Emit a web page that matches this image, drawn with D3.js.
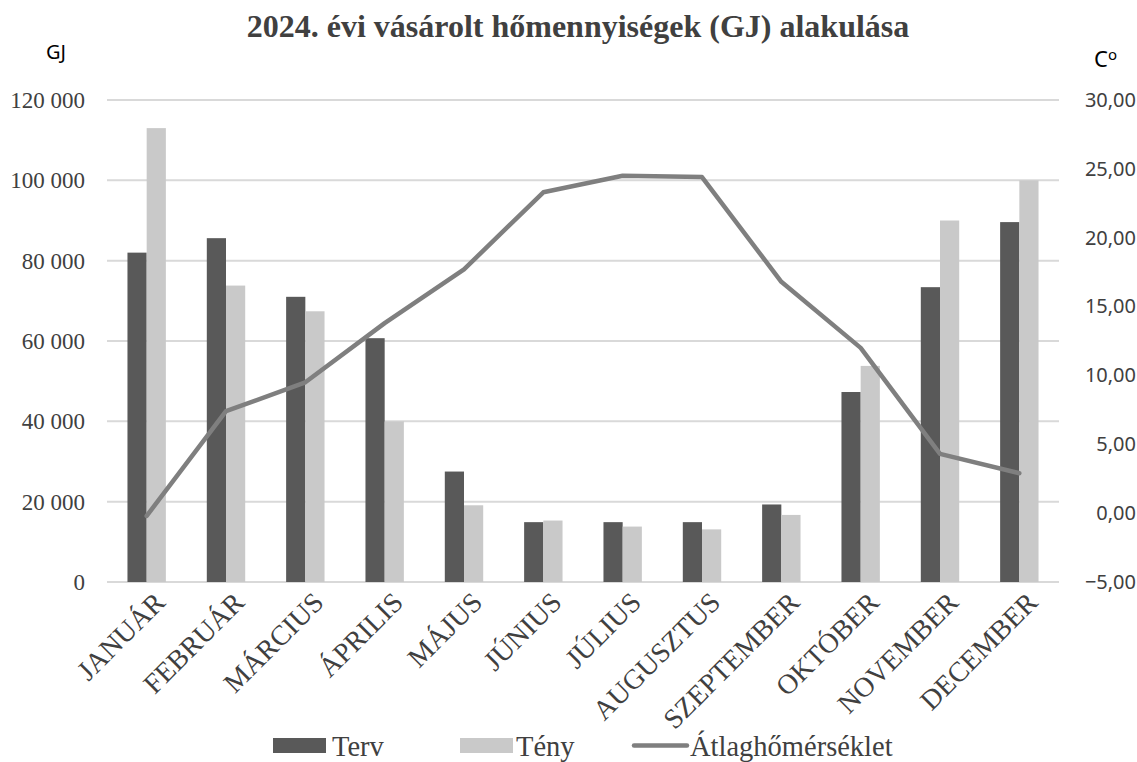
<!DOCTYPE html>
<html><head><meta charset="utf-8">
<script src="https://cdn.jsdelivr.net/npm/d3@7"></script>
<style>body{margin:0;background:#fff}svg{display:block}</style>
</head><body>
<svg id="c" width="1137" height="762"></svg>
<script>
const months = ["JANUÁR","FEBRUÁR","MÁRCIUS","ÁPRILIS","MÁJUS","JÚNIUS","JÚLIUS","AUGUSZTUS","SZEPTEMBER","OKTÓBER","NOVEMBER","DECEMBER"];
const terv = [82000,85600,71000,60700,27500,14900,14900,14900,19300,47300,73400,89600];
const teny = [113000,73800,67400,40000,19100,15300,13800,13100,16700,53800,90000,100000];
const temp = [-0.2,7.4,9.5,13.8,17.7,23.3,24.5,24.4,16.8,12.0,4.3,2.9];
const leftTicks = [0,20000,40000,60000,80000,100000,120000];
const rightTicks = [-5,0,5,10,15,20,25,30];
const seriesNames = ["Terv","Tény","Átlaghőmérséklet"];
const title = "2024. évi vásárolt hőmennyiségek (GJ) alakulása";

const svg = d3.select("#c");
const L=107, R=1059, T=100, B=582;
const serif = "'Liberation Serif','Times New Roman',serif";
const sans = "'Noto Sans','Open Sans',sans-serif";
const cTerv="#595959", cTeny="#c9c9c9", cLine="#7f7f7f", txt="#404040";

const x = d3.scaleBand().domain(months).range([L,R]).paddingInner(0.516).paddingOuter(0.258);
const x1 = d3.scaleBand().domain(["Terv","Tény"]).range([0,x.bandwidth()]);
const y = d3.scaleLinear().domain([0,120000]).range([B,T]);
const y2 = d3.scaleLinear().domain([-5,30]).range([B,T]);

// gridlines
svg.append("g").selectAll("line").data(leftTicks).join("line")
  .attr("x1",L).attr("x2",R).attr("y1",d=>y(d)).attr("y2",d=>y(d))
  .attr("stroke","#d9d9d9").attr("stroke-width",2);

// left axis
const fmt = d => d3.format(",")(d).replace(/,/g," ");
const ga = svg.append("g").attr("transform",`translate(${L},0)`)
  .call(d3.axisLeft(y).tickValues(leftTicks).tickFormat(fmt).tickSize(0).tickPadding(22));
ga.select(".domain").remove();
ga.selectAll("text").attr("font-family",serif).attr("font-size",23).attr("fill",txt);

// right axis
const gr = svg.append("g").attr("transform",`translate(${R},0)`)
  .call(d3.axisRight(y2).tickValues(rightTicks).tickFormat(d=>d3.format(".2f")(d).replace(".",",")).tickSize(0).tickPadding(77));
gr.select(".domain").remove();
gr.selectAll("text").attr("font-family",sans).attr("font-size",20).attr("fill",txt).attr("text-anchor","end");

// bars
const grp = svg.append("g").selectAll("g").data(months).join("g")
  .attr("transform",d=>`translate(${x(d)},0)`);
grp.append("rect").attr("x",x1("Terv")).attr("width",x1.bandwidth())
  .attr("y",(d,i)=>y(terv[i])).attr("height",(d,i)=>B-y(terv[i])).attr("fill",cTerv);
grp.append("rect").attr("x",x1("Tény")).attr("width",x1.bandwidth())
  .attr("y",(d,i)=>y(teny[i])).attr("height",(d,i)=>B-y(teny[i])).attr("fill",cTeny);

// line
const line = d3.line().x((d,i)=>x(months[i])+x.bandwidth()/2).y(d=>y2(d));
svg.append("path").datum(temp).attr("d",line).attr("fill","none")
  .attr("stroke",cLine).attr("stroke-width",4.5).attr("stroke-linejoin","round").attr("stroke-linecap","round");

// x labels
const gx = svg.append("g").attr("transform",`translate(0,${B})`)
  .call(d3.axisBottom(x).tickSize(0).tickPadding(0));
gx.select(".domain").remove();
gx.selectAll("text").attr("font-family",serif).attr("font-size",28).attr("fill",txt)
  .attr("text-anchor","end").attr("dy",0).attr("y",0)
  .attr("transform","translate(20,22) rotate(-45)");

// title
svg.append("text").attr("x",578).attr("y",37).attr("text-anchor","middle")
  .attr("font-family",serif).attr("font-weight","bold").attr("font-size",32).attr("fill",txt).text(title);
// unit labels
svg.append("text").attr("x",56).attr("y",59).attr("text-anchor","middle")
  .attr("font-family",sans).attr("font-size",20).attr("fill","#000").text("GJ");
const cu = svg.append("text").attr("x",1094).attr("y",67)
  .attr("font-family",sans).attr("font-size",22).attr("fill","#000");
cu.append("tspan").text("C");
cu.append("tspan").attr("font-size",15).attr("dy",-7).text("o");

// legend
const lg = svg.append("g").attr("font-family",serif).attr("font-size",28.5).attr("fill",txt);
lg.append("rect").attr("x",273).attr("y",738).attr("width",53).attr("height",15).attr("fill",cTerv);
lg.append("text").attr("x",332).attr("y",756).text(seriesNames[0]);
lg.append("rect").attr("x",460).attr("y",738).attr("width",53).attr("height",15).attr("fill",cTeny);
lg.append("text").attr("x",516).attr("y",756).text(seriesNames[1]);
lg.append("line").attr("x1",634).attr("x2",687).attr("y1",745.5).attr("y2",745.5)
  .attr("stroke",cLine).attr("stroke-width",4.5).attr("stroke-linecap","round");
lg.append("text").attr("x",690).attr("y",756).text(seriesNames[2]);
</script>
</body></html>
